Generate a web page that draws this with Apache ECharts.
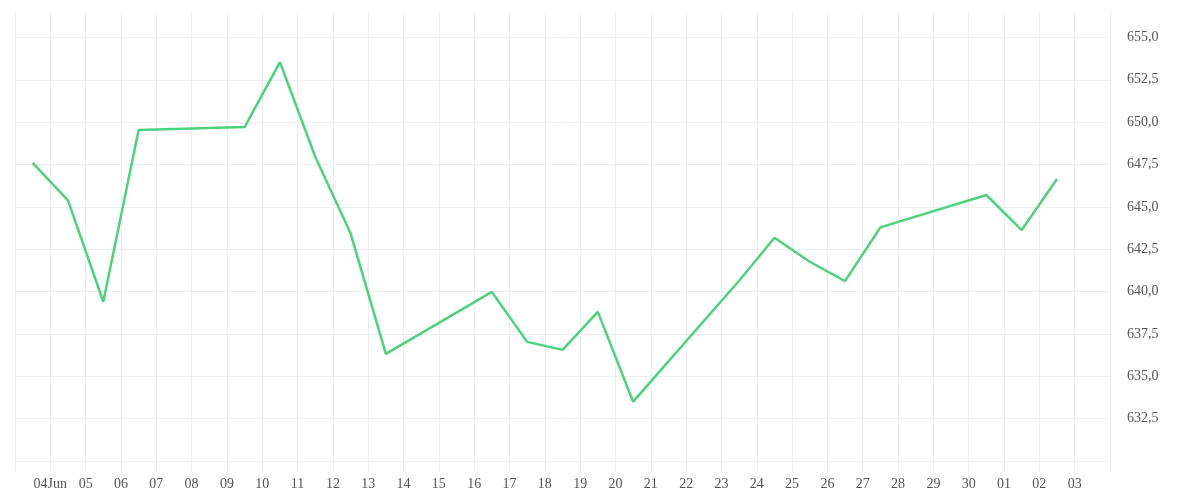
<!DOCTYPE html>
<html>
<head>
<meta charset="utf-8">
<script src="https://cdn.jsdelivr.net/npm/echarts@6/dist/echarts.min.js"></script>
<style>
  html, body { margin: 0; padding: 0; background: #ffffff; }
  #chart { width: 1200px; height: 500px; }
</style>
</head>
<body>
<div id="chart"></div>
<script>
// Trading dates (UTC) and closing values
const dates = [
  '2024-06-04', '2024-06-05', '2024-06-06', '2024-06-07',
  '2024-06-10', '2024-06-11', '2024-06-12', '2024-06-13', '2024-06-14',
  '2024-06-17', '2024-06-18', '2024-06-19', '2024-06-20', '2024-06-21',
  '2024-06-24', '2024-06-25', '2024-06-26', '2024-06-27', '2024-06-28',
  '2024-07-01', '2024-07-02', '2024-07-03'
];
const values = [
  647.60, 645.38, 639.40, 649.53,
  649.71, 653.54, 647.96, 643.44, 636.32,
  639.98, 637.03, 636.56, 638.80, 633.50,
  640.64, 643.18, 641.76, 640.62, 643.79,
  645.70, 643.63, 646.64
];
const xStart = '2024-06-03';
const xEnd = '2024-07-04';
const yMin = 630;
const yMax = 656.5;
const yStep = 2.5;
const monthNames = ['Jan','Feb','Mar','Apr','May','Jun','Jul','Aug','Sep','Oct','Nov','Dec'];

const DAY = 86400000;
const toTime = s => Date.parse(s + 'T00:00:00Z');
const xMin = toTime(xStart);
const xMax = toTime(xEnd);
// each session is drawn in the middle of the day that precedes its date label
const seriesData = dates.map((d, i) => [toTime(d) - DAY / 2, values[i]]);

const gridColor = '#eeeeee';
const labelFont = { fontFamily: 'Liberation Serif', fontSize: 14, color: '#555555' };

const chart = echarts.init(document.getElementById('chart'), null, { renderer: 'canvas' });
chart.setOption({
  useUTC: true,
  animation: false,
  backgroundColor: '#ffffff',
  grid: { left: 15, right: 90, top: 12, bottom: 39, containLabel: false, outerBoundsMode: 'none' },
  xAxis: {
    type: 'time',
    min: xMin,
    max: xMax,
    minInterval: DAY,
    maxInterval: DAY,
    axisLine: { show: true, lineStyle: { color: gridColor, width: 1 } },
    axisTick: { show: true, length: 10, lineStyle: { color: gridColor, width: 1 } },
    splitLine: { show: true, lineStyle: { color: gridColor, width: 1 } },
    axisLabel: Object.assign({
      margin: 16,
      showMinLabel: false,
      showMaxLabel: false,
      hideOverlap: false,
      formatter: function (value) {
        if (value <= xMin || value >= xMax) return '';
        const d = new Date(value);
        const dd = String(d.getUTCDate()).padStart(2, '0');
        if (value - xMin < 1.5 * DAY) return dd + monthNames[d.getUTCMonth()];
        return dd;
      }
    }, labelFont)
  },
  yAxis: {
    type: 'value',
    position: 'right',
    min: yMin,
    max: yMax,
    interval: yStep,
    axisLine: { show: true, lineStyle: { color: gridColor, width: 1 } },
    axisTick: { show: false },
    splitLine: { show: true, showMinLine: false, showMaxLine: false, lineStyle: { color: gridColor, width: 1 } },
    axisLabel: Object.assign({
      margin: 17,
      showMinLabel: false,
      showMaxLabel: false,
      formatter: v => (v <= yMin || v >= yMax) ? '' : v.toFixed(1).replace('.', ',')
    }, labelFont)
  },
  series: [{
    type: 'line',
    data: seriesData,
    showSymbol: false,
    symbol: 'none',
    lineStyle: { color: '#4cd27d', width: 2.5 },
    itemStyle: { color: '#4cd27d' }
  }]
});
</script>
</body>
</html>
